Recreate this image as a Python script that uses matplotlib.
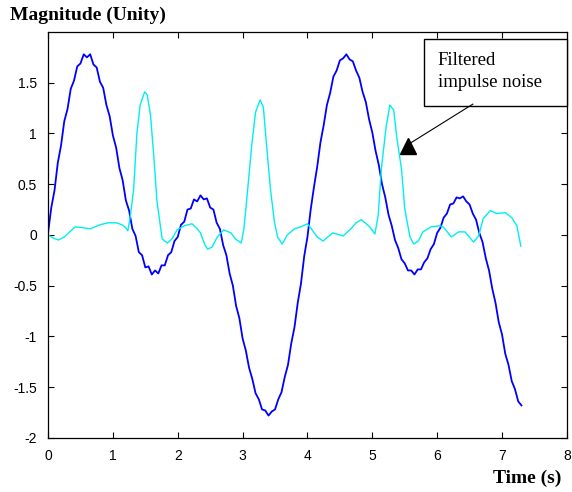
import numpy as np
import matplotlib
matplotlib.use('Agg')
import matplotlib.pyplot as plt
from matplotlib.patches import Rectangle

signal = [0.02, 0.27, 0.44, 0.71, 0.88, 1.12, 1.24, 1.44, 1.52, 1.66, 1.69, 1.78, 1.75, 1.78, 1.68,
          1.65, 1.51, 1.45, 1.28, 1.17, 0.98, 0.86, 0.66, 0.54, 0.34, 0.24, 0.06, -0.01, -0.17, -0.20,
          -0.32, -0.31, -0.39, -0.35, -0.38, -0.30, -0.30, -0.20, -0.17, -0.06, -0.02,
          0.10, 0.13, 0.25, 0.26, 0.35, 0.33, 0.39, 0.35, 0.36, 0.27, 0.25, 0.12, 0.06, -0.10, -0.20,
          -0.38, -0.50, -0.70, -0.82, -1.02, -1.14, -1.31, -1.42, -1.56, -1.62, -1.72, -1.73, -1.78,
          -1.74, -1.72, -1.62, -1.55, -1.40, -1.28, -1.07, -0.91, -0.67, -0.48, -0.21, -0.02,
          0.25, 0.47, 0.67, 0.91, 1.08, 1.28, 1.40, 1.56, 1.62, 1.72, 1.74, 1.78, 1.73, 1.71, 1.62,
          1.55, 1.41, 1.31, 1.14, 1.01, 0.83, 0.69, 0.50, 0.37, 0.20, 0.09, -0.05, -0.13, -0.24, -0.28,
          -0.35, -0.35, -0.39, -0.34, -0.34, -0.27, -0.23, -0.14, -0.09, 0.02,
          0.07, 0.17, 0.21, 0.30, 0.31, 0.37, 0.36, 0.38, 0.33, 0.30, 0.21, 0.15, 0.02, -0.07, -0.23,
          -0.35, -0.53, -0.67, -0.86, -0.98, -1.17, -1.28, -1.44, -1.52, -1.64, -1.68]
dt = 0.05
t_sig = np.arange(len(signal)) * dt

# filtered impulse noise (time, value)
t_noise = [0.00, 0.08, 0.16, 0.25, 0.42, 0.55, 0.65, 0.80, 0.93, 1.05, 1.14, 1.20, 1.23, 1.27, 1.32,
           1.37, 1.42, 1.49, 1.53, 1.58, 1.63, 1.68, 1.76, 1.84, 1.91, 1.99, 2.10, 2.22, 2.30, 2.35,
           2.42, 2.46, 2.53, 2.61, 2.71, 2.82, 2.89, 2.98, 3.02, 3.07, 3.14, 3.20, 3.27, 3.32, 3.37,
           3.43, 3.49, 3.54, 3.61, 3.69, 3.80, 3.90, 4.00, 4.06, 4.15, 4.24, 4.39, 4.55, 4.67, 4.75,
           4.83, 4.96, 5.04, 5.09, 5.14, 5.21, 5.27, 5.33, 5.38, 5.45, 5.50, 5.58, 5.64, 5.71, 5.78,
           5.91, 6.04, 6.09, 6.22, 6.33, 6.43, 6.56, 6.64, 6.71, 6.82, 6.92, 7.05, 7.15, 7.23, 7.29]
noise = [0.00, -0.03, -0.05, -0.02, 0.08, 0.07, 0.06, 0.10, 0.12, 0.12, 0.10, 0.07, 0.04, 0.19, 0.45,
         1.00, 1.28, 1.41, 1.38, 1.18, 0.78, 0.33, -0.04, -0.08, -0.04, 0.05, 0.09, 0.11, 0.06, 0.02,
         -0.10, -0.14, -0.12, -0.02, 0.05, 0.02, -0.04, -0.08, 0.06, 0.39, 0.88, 1.21, 1.33, 1.26, 0.88,
         0.45, 0.13, -0.02, -0.09, 0.00, 0.06, 0.08, 0.11, 0.06, -0.02, -0.06, 0.02, -0.01, 0.06, 0.12,
         0.15, 0.08, 0.01, 0.19, 0.65, 1.05, 1.28, 1.23, 0.95, 0.65, 0.26, -0.02, -0.09, -0.06, 0.03,
         0.08, 0.09, 0.08, -0.02, 0.03, 0.03, -0.07, -0.01, 0.16, 0.24, 0.21, 0.22, 0.17, 0.09, -0.11]

x_ticks = [0, 1, 2, 3, 4, 5, 6, 7, 8]
y_ticks = [-2, -1.5, -1, -0.5, 0, 0.5, 1, 1.5]
y_labels = ['-2', '-1.5', '-1', '-0.5', '0', '0.5', '1', '1.5']

plt.rcParams['font.family'] = ['Liberation Sans', 'DejaVu Sans']

fig = plt.figure(figsize=(5.72, 4.92), dpi=100)
ax = fig.add_axes([0.084, 0.110, 0.907, 0.825])

ax.plot(t_sig, signal, color='#0000ff', linewidth=1.3)
ax.plot(t_noise, noise, color='#00eeee', linewidth=1.0)

ax.set_xlim(0, 8)
ax.set_ylim(-2, 2)
ax.set_xticks(x_ticks)
ax.set_yticks(y_ticks)
ax.set_yticklabels(y_labels)
ax.tick_params(direction='in', length=4, top=True, right=True, labelsize=10, pad=8)
for s in ax.spines.values():
    s.set_linewidth(0.9)

serif = ['Liberation Serif', 'DejaVu Serif']
fig.text(0.018, 0.968, 'Magnitude (Unity)', family=serif, fontweight='bold', fontsize=14, va='center')
fig.text(0.982, 0.027, 'Time (s)', family=serif, fontweight='bold', fontsize=14, ha='right', va='center')

# annotation box and arrow
ax.add_patch(Rectangle((5.79, 1.266), 2.21, 0.664, facecolor='white', edgecolor='black',
                       linewidth=1.0, zorder=5, clip_on=False))
ax.text(6.01, 1.80, 'Filtered\nimpulse noise', family=serif, fontsize=13.5, va='top',
        linespacing=1.4, zorder=6)
ax.plot([6.55, 5.60], [1.289, 0.91], color='black', linewidth=0.8, zorder=6)
ax.plot([5.55], [0.88], marker='^', markersize=12, color='black', zorder=6)

fig.savefig('out.png', dpi=100)
